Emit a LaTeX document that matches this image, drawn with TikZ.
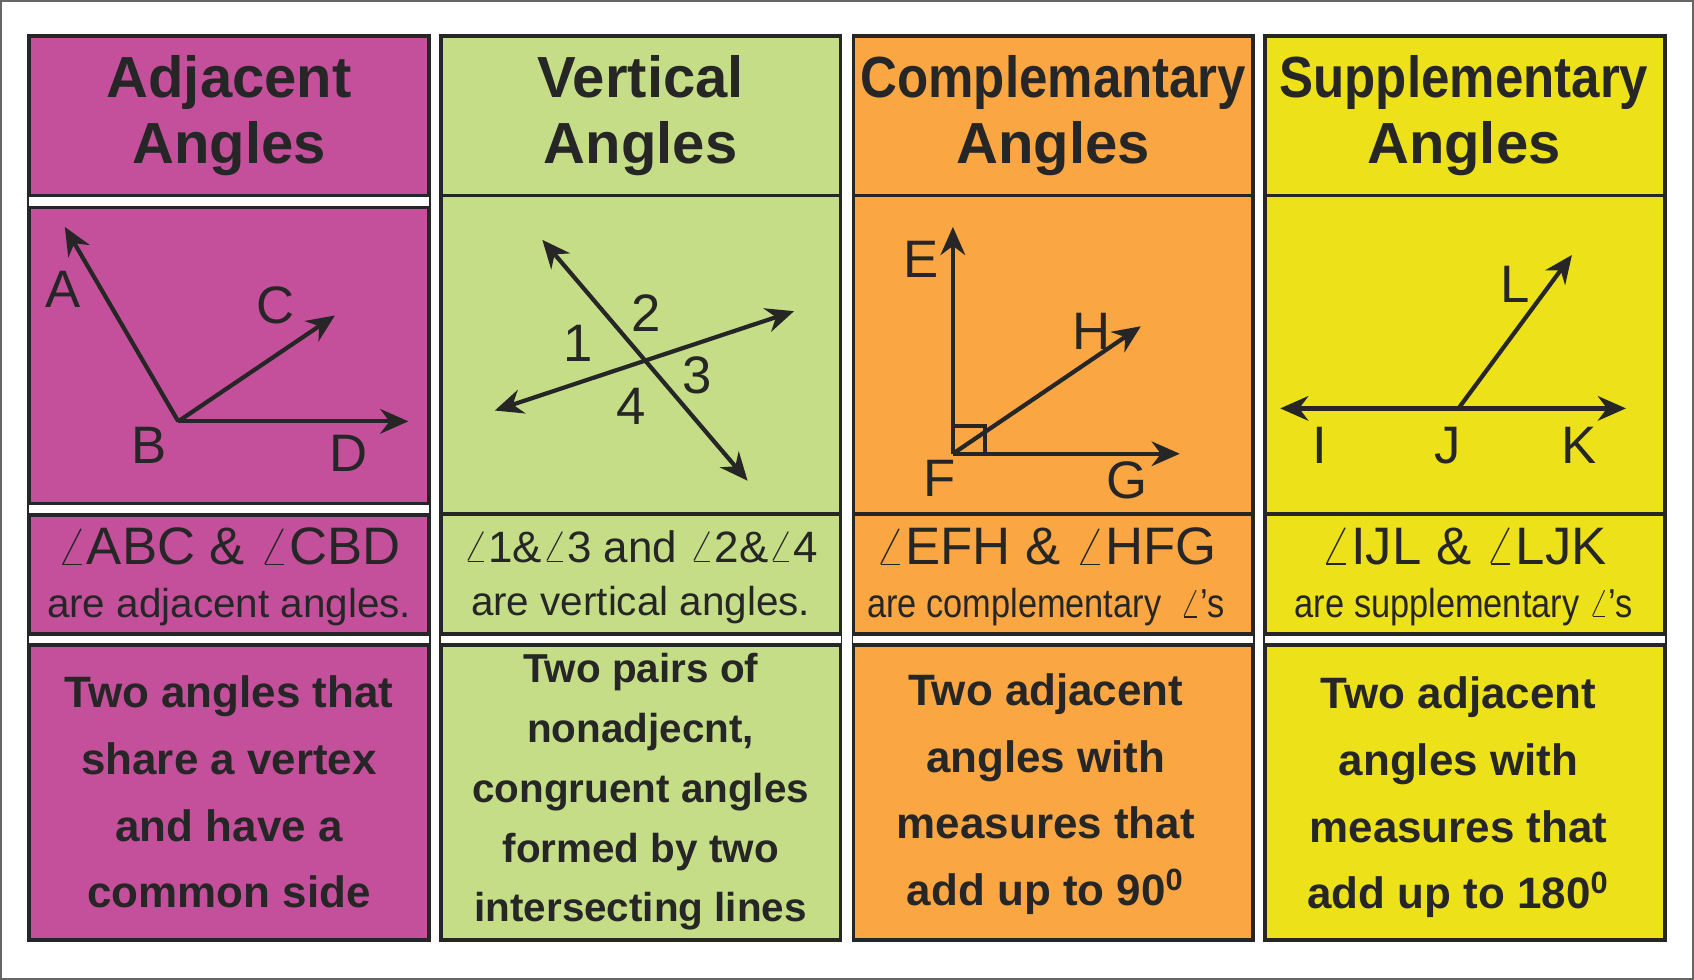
\documentclass[tikz,border=0pt]{standalone}
\usepackage{fontspec}
\setmainfont{Liberation Sans}
\usetikzlibrary{arrows.meta}
\definecolor{adjcol}{HTML}{C4509C}
\definecolor{vercol}{HTML}{C6DD88}
\definecolor{comcol}{HTML}{F9A643}
\definecolor{supcol}{HTML}{EDE11A}
\newcommand{\ang}{$\angle$}
\tikzset{
  frame/.style={draw=black!85, line width=1.1pt},
  ray/.style={draw=black!85, line width=1.2pt, -{Stealth[length=8pt,width=7pt]}},
  line/.style={draw=black!85, line width=1.2pt, {Stealth[length=8pt,width=7pt]}-{Stealth[length=8pt,width=7pt]}},
  title/.style={font=\fontsize{16.5}{19}\selectfont\bfseries, align=center, text=black!85},
  pt/.style={font=\fontsize{15}{15}\selectfont, text=black!85},
  pair/.style={align=center, text=black!85, font=\fontsize{11.5}{15}\selectfont},
  desc/.style={align=center, text=black!85, font=\fontsize{12.5}{19}\selectfont\bfseries}
}
\begin{document}
\begin{tikzpicture}[x=0.010804cm, y=-0.010804cm]
    \useasboundingbox (0,0) rectangle (1568,907);
    \draw[black!60, line width=0.6pt] (1,1) rectangle (1567,906);

    % Columns
    \foreach \x/\col in {27/adjcol, 408/vercol, 790/comcol, 1171/supcol} {
        \fill[\col] (\x, 33) rectangle (\x+370, 870);
        \draw[frame] (\x, 33) rectangle (\x+370, 870);
        \fill[white] (\x, 588) rectangle (\x+370, 596);
        \draw[frame] (\x, 587) -- (\x+370, 587);
        \draw[frame] (\x, 597) -- (\x+370, 597);
    }
    \foreach \x in {408, 790, 1171} {
        \draw[frame] (\x, 181) -- (\x+370, 181);
        \draw[frame] (\x, 476) -- (\x+370, 476);
    }
    % Adjacent: double separators
    \foreach \y in {181, 466} {
        \fill[white] (27, \y) rectangle (397, \y+11);
        \draw[frame] (27, \y) -- (397, \y);
        \draw[frame] (27, \y+11) -- (397, \y+11);
    }

    % Titles
    \node[title] (h1) at (212, 107) {Adjacent\\Angles};
    \node[title] (h2) at (593, 107) {Vertical\\Angles};
    \node[title] (h3) at (975, 107) {\scalebox{0.88}[1]{Complemantary}\\Angles};
    \node[title] (h4) at (1355, 107) {\scalebox{0.88}[1]{Supplementary}\\Angles};

    % Adjacent angles
    \coordinate (B) at (165, 390);
    \coordinate (A) at (60, 210);
    \coordinate (C) at (310, 292);
    \coordinate (D) at (378, 390);
    \draw[ray] (B) -- (A);
    \draw[ray] (B) -- (C);
    \draw[ray] (B) -- (D);
    \node[pt] (lA) at (58, 268) {A};
    \node[pt] (lC) at (255, 283) {C};
    \node[pt] (lB) at (138, 412) {B};
    \node[pt] (lD) at (323, 420) {D};

    % Vertical angles
    \coordinate (v1) at (502, 222);
    \coordinate (v2) at (692, 445);
    \coordinate (v3) at (458, 380);
    \coordinate (v4) at (735, 288);
    \draw[line] (v1) -- (v2);
    \draw[line] (v3) -- (v4);
    \node[pt] (n1) at (535, 318) {1};
    \node[pt] (n2) at (598, 290) {2};
    \node[pt] (n3) at (645, 347) {3};
    \node[pt] (n4) at (584, 376) {4};

    % Complementary angles
    \coordinate (F) at (882, 420);
    \coordinate (E) at (882, 210);
    \coordinate (G) at (1092, 420);
    \coordinate (H) at (1056, 302);
    \draw[ray] (F) -- (E);
    \draw[ray] (F) -- (G);
    \draw[ray] (F) -- (H);
    \draw[black!85, line width=1.1pt] (882, 394) -| (912, 420);
    \node[pt] (lE) at (853, 240) {E};
    \node[pt] (lH) at (1010, 307) {H};
    \node[pt] (lF) at (870, 443) {F};
    \node[pt] (lG) at (1043, 445) {G};

    % Supplementary angles
    \coordinate (I) at (1185, 378);
    \coordinate (K) at (1505, 378);
    \coordinate (J) at (1350, 378);
    \coordinate (L) at (1455, 236);
    \draw[line] (I) -- (K);
    \draw[ray] (J) -- (L);
    \node[pt] (lI) at (1222, 412) {I};
    \node[pt] (lJ) at (1340, 412) {J};
    \node[pt] (lK) at (1462, 412) {K};
    \node[pt] (lL) at (1402, 263) {L};

    % Pairs
    \node[pair] (p1) at (212, 534) {{\fontsize{15}{15}\selectfont\ang ABC \& \ang CBD}\\are adjacent angles.};
    \node[pair] (p2) at (593, 534) {{\fontsize{12.5}{12.5}\selectfont\ang 1\&\ang 3 and \ang 2\&\ang 4}\\are vertical angles.};
    \node[pair] (p3) at (968, 534) {{\fontsize{15}{15}\selectfont\ang EFH \& \ang HFG}\\\scalebox{0.85}[1]{are complementary \ \ang's}};
    \node[pair] (p4) at (1355, 534) {{\fontsize{15}{15}\selectfont\ang IJL \& \ang LJK}\\\scalebox{0.85}[1]{are supplementary \ang's}};

    % Descriptions
    \node[desc] (d1) at (212, 733) {Two angles that\\share a vertex\\and have a\\common side};
    \node[desc, font=\fontsize{11.5}{17}\selectfont\bfseries] (d2) at (593, 733) {Two pairs of\\nonadjecnt,\\congruent angles\\formed by two\\intersecting lines};
    \node[desc] (d3) at (968, 735) {Two adjacent\\angles with\\measures that\\add up to 90\textsuperscript{0}};
    \node[desc] (d4) at (1350, 738) {Two adjacent\\angles with\\measures that\\add up to 180\textsuperscript{0}};
\end{tikzpicture}
\end{document}
